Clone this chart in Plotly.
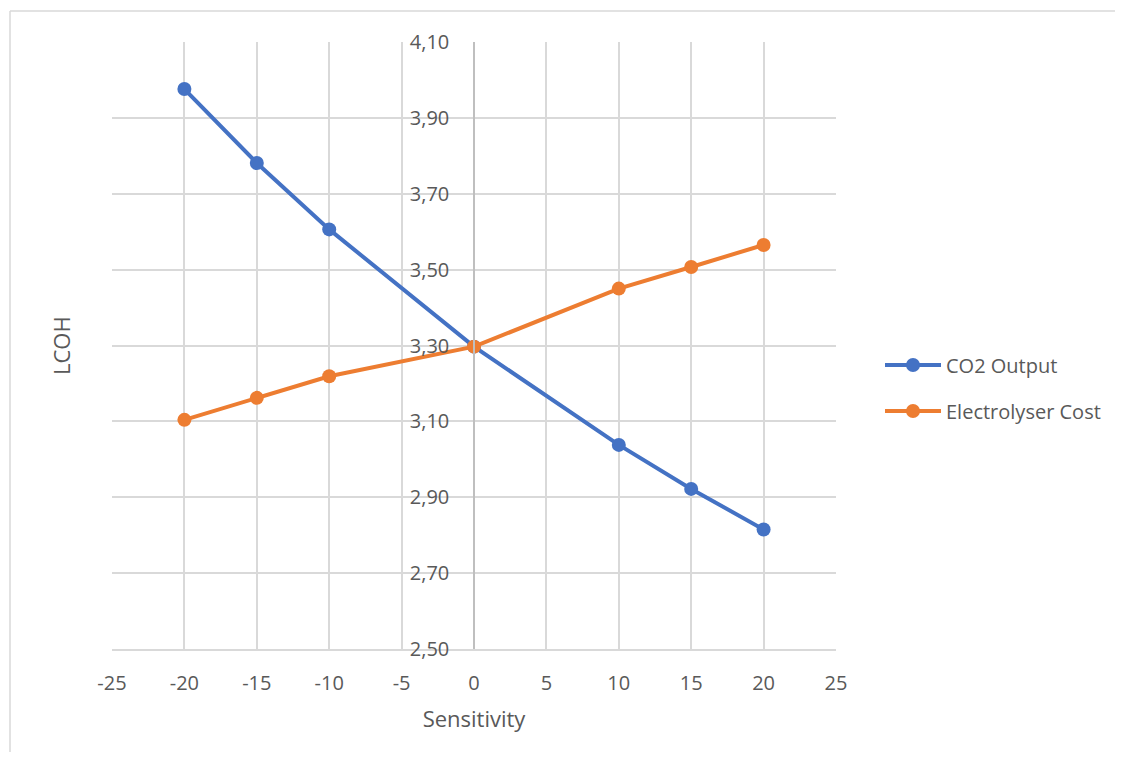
import plotly.graph_objects as go

sensitivity = [-20, -15, -10, 0, 10, 15, 20]
co2_output = [3.976, 3.781, 3.606, 3.297, 3.038, 2.922, 2.815]
electrolyser_cost = [3.104, 3.162, 3.219, 3.297, 3.450, 3.507, 3.565]

x_ticks = [-25, -20, -15, -10, -5, 0, 5, 10, 15, 20, 25]
x_tick_labels = ["-25", "-20", "-15", "-10", "-5", "0", "5", "10", "15", "20", "25"]
y_ticks = [2.50, 2.70, 2.90, 3.10, 3.30, 3.50, 3.70, 3.90, 4.10]
y_tick_labels = ["2,50", "2,70", "2,90", "3,10", "3,30", "3,50", "3,70", "3,90", "4,10"]

FONT = "Open Sans, Noto Sans, DejaVu Sans, sans-serif"
TXT = "#595959"
GRID = "#d9d9d9"

# plot area in page pixels (page has an 8px body offset)
PL, PR, PT, PB = 112, 836, 42, 649
W, H = 1107, 744
PW, PH = PR - PL, PB - PT

fig = go.Figure()
fig.add_trace(go.Scatter(
    x=sensitivity, y=co2_output, name="CO2 Output", mode="lines+markers",
    line=dict(color="#4472C4", width=4), marker=dict(size=14, color="#4472C4"),
    legendgroup="a"))
fig.add_trace(go.Scatter(
    x=sensitivity, y=electrolyser_cost, name="Electrolyser Cost", mode="lines+markers",
    line=dict(color="#ED7D31", width=4), marker=dict(size=14, color="#ED7D31"),
    legendgroup="b"))

fig.update_layout(
    width=W, height=H,
    margin=dict(l=PL - 8, r=W - (PR - 8), t=PT - 8, b=H - (PB - 8), autoexpand=False),
    paper_bgcolor="white", plot_bgcolor="white",
    font=dict(family=FONT, color=TXT, size=20),
    showlegend=True,
    legend=dict(x=(880 - PL) / PW, y=(PB - 388) / PH, xanchor="left", yanchor="middle",
                font=dict(size=20, color=TXT), tracegroupgap=17,
                traceorder="grouped", itemwidth=56),
    xaxis=dict(range=[-25, 25], tickvals=x_ticks, ticktext=x_tick_labels,
               showgrid=True, gridcolor=GRID, gridwidth=1.5,
               zeroline=False, showline=True, linecolor=GRID, linewidth=1.5,
               ticks="outside", ticklen=15, tickcolor="rgba(0,0,0,0)",
               tickfont=dict(size=20, color=TXT),
               title=dict(text="Sensitivity", font=dict(size=22, color=TXT), standoff=17),
               fixedrange=True),
    yaxis=dict(range=[2.50, 4.10], tickvals=y_ticks, ticktext=y_tick_labels,
               showgrid=True, gridcolor=GRID, gridwidth=1.5,
               zeroline=False, showline=True, linecolor="#bfbfbf", linewidth=1.5,
               anchor="free", position=0.5,
               ticks="outside", ticklen=20, tickcolor="rgba(0,0,0,0)",
               tickfont=dict(size=20, color=TXT), fixedrange=True),
    annotations=[dict(text="LCOH", xref="paper", yref="paper",
                      x=(61 - PL) / PW, y=(PB - 346) / PH, textangle=-90,
                      showarrow=False, font=dict(size=22, color=TXT),
                      xanchor="center", yanchor="middle")],
    shapes=[
        dict(type="line", xref="paper", yref="paper",
             x0=(10 - PL) / PW, x1=(1200 - PL) / PW,
             y0=1 + (PT - 11) / PH, y1=1 + (PT - 11) / PH,
             line=dict(color=GRID, width=1.5), layer="below"),
        dict(type="line", xref="paper", yref="paper",
             x0=(10 - PL) / PW, x1=(10 - PL) / PW,
             y0=1 + (PT - 11) / PH, y1=(PB - 800) / PH,
             line=dict(color=GRID, width=1.5), layer="below"),
    ],
)

fig.write_html("out.html")
